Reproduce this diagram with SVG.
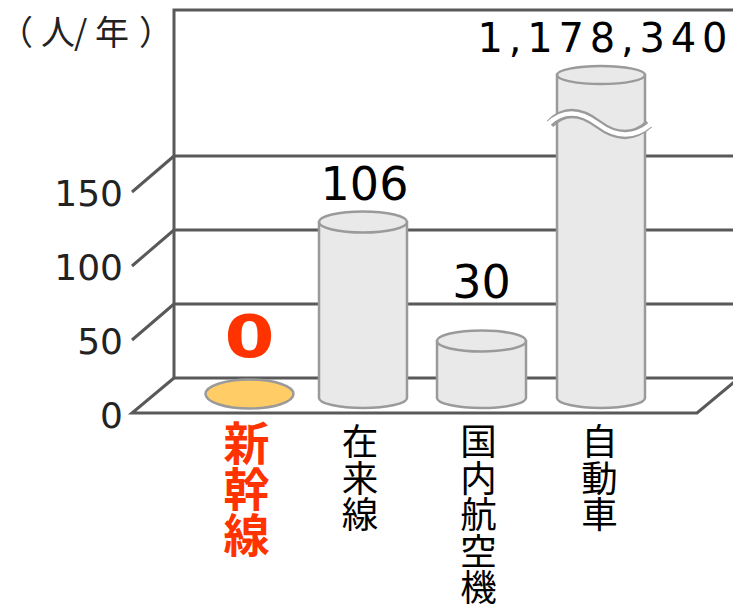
<svg xmlns="http://www.w3.org/2000/svg" width="733" height="606" viewBox="0 0 733 606">
<style>
.grid{stroke:#595959;stroke-width:3;fill:none;stroke-linecap:butt}
.cyl{fill:#E9E9E9;stroke:#9A9A9A;stroke-width:2.5}
.num{font-family:"DejaVu Sans",sans-serif;fill:#000}
.ax{font-family:"DejaVu Sans",sans-serif;font-size:36px;fill:#222;text-anchor:end}
.cat{font-family:"Noto Sans CJK JP",sans-serif;font-size:36.5px;fill:#000;writing-mode:vertical-rl;text-anchor:start}
</style>
<rect width="733" height="606" fill="#fff"/>
<g id="axes">
<path class="grid" d="M174,10H733M174,8.5V378M174,156H733M174,230H733M174,304H733M174,378H733"/>
<path class="grid" d="M174,156L132,192M174,230L132,266M174,304L132,340M174,378L132,413H697L739,378"/>
<text class="ax" x="123" y="206">150</text>
<text class="ax" x="123" y="280">100</text>
<text class="ax" x="123" y="354">50</text>
<text class="ax" x="123" y="428">0</text>
<text y="45" font-family="Noto Sans CJK JP,sans-serif" font-size="34" fill="#222"><tspan x="-1">（</tspan><tspan x="41">人</tspan><tspan x="74">/</tspan><tspan x="95">年</tspan><tspan x="139">）</tspan></text>
</g>
<g id="shinkansen">
<ellipse cx="249.5" cy="394" rx="44" ry="14.5" fill="#FFCC66" stroke="#9A9A9A" stroke-width="2.5"/>
<text transform="translate(249.5,357) scale(1.24,1)" text-anchor="middle" font-family="DejaVu Sans,sans-serif" font-weight="bold" font-size="58" fill="#FF3300">0</text>
<text class="cat" x="246.5" y="420" style="font-size:46px;fill:#FF3300;font-weight:bold">新幹線</text>
</g>
<g id="zairaisen">
<path class="cyl" d="M319,222V398A44,10 0 0 0 407,398V222Z"/>
<ellipse class="cyl" cx="363" cy="222" rx="44" ry="10.5"/>
<text class="num" x="364.5" y="200" font-size="46" text-anchor="middle">106</text>
<text class="cat" x="360" y="423">在来線</text>
</g>
<g id="kokunai">
<path class="cyl" d="M437,341V398A44.5,10 0 0 0 526,398V341Z"/>
<ellipse class="cyl" cx="481.5" cy="341" rx="44.5" ry="10.5"/>
<text class="num" x="481.5" y="298" font-size="46" text-anchor="middle">30</text>
<text class="cat" x="478.5" y="423">国内航空機</text>
</g>
<g id="jidousha">
<path class="cyl" d="M557,75V398A44,10 0 0 0 645,398V75Z"/>
<ellipse class="cyl" cx="601" cy="75" rx="44" ry="9"/>
<path d="M550,124Q570,103 598,124T649,124" fill="none" stroke="#9A9A9A" stroke-width="9"/>
<path d="M548,124Q570,103 598,124T651,124" fill="none" stroke="#fff" stroke-width="4.5"/>
<text class="num" x="477.5" y="52" font-size="40" textLength="250" lengthAdjust="spacing">1,178,340</text>
<text class="cat" x="599.5" y="423">自動車</text>
</g>
</svg>
